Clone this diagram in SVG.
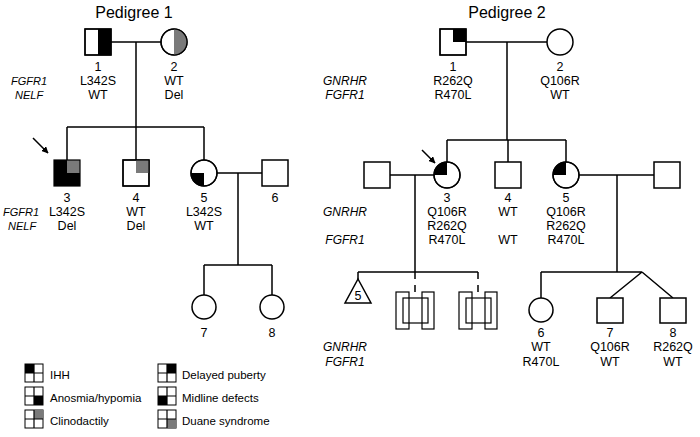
<svg xmlns="http://www.w3.org/2000/svg" width="700" height="437" viewBox="0 0 700 437">
<style>
text{font-family:"Liberation Sans",Arial,sans-serif;font-size:12.5px;fill:#000;text-anchor:middle}
.t{font-size:16px}
.g{font-style:italic;font-size:12px}
.ge{font-style:italic;text-anchor:start;font-size:11px}
.lg{text-anchor:start;font-size:11.5px}
.s{fill:#fff;stroke:#000;stroke-width:1.5}
.o{fill:none;stroke:#000;stroke-width:1.2}
.k{fill:#000}
.gr{fill:#7a7a7a}
.ln{fill:none;stroke:#000;stroke-width:1.5}
.lw{fill:#fff;stroke:#000;stroke-width:1}
</style>
<defs>
<marker id="ah" viewBox="0 0 10 10" refX="9" refY="5" markerWidth="7" markerHeight="7" orient="auto" markerUnits="userSpaceOnUse"><path d="M0,0 L10,5 L0,10 Z" fill="#000"/></marker>
</defs>
<rect width="700" height="437" fill="#fff"/>
<text class="t" x="134" y="18">Pedigree 1</text>
<text class="t" x="507" y="18">Pedigree 2</text>

<g id="connectors">
<path class="ln" d="M111,42 H161 M136,42 V127 M67,127 H204 M67,127 V160 M136,127 V160 M204,127 V160"/>
<path class="ln" d="M217,173 H262 M238,173 V265 M204,265 H272 M204,265 V295 M272,265 V295"/>
<path class="ln" d="M466,42 H547 M507,42 V140 M447,140 H566 M447,140 V162 M508,140 V162 M566,140 V162"/>
<path class="ln" d="M390,175 H434 M579,175 H654 M415,175 V272 M358,272 H478 M358,272 V279"/>
<path class="ln" d="M415,272 V292 M478,272 V292" stroke-dasharray="7 6"/>
<path class="ln" d="M617,175 V272 M541,272 H642 M541,272 V298 M642,272 L610,298 M642,272 L673,298"/>
<path class="ln" d="M33,138 L48,153" marker-end="url(#ah)"/>
<path class="ln" d="M422,150 L435,163" marker-end="url(#ah)"/>
</g>

<g id="p1-1"><rect class="s" x="85" y="29" width="26" height="26"/><rect class="k" x="98" y="29" width="13" height="26"/><rect class="o" x="85" y="29" width="26" height="26"/>
<text x="98" y="71">1</text><text x="98" y="85">L342S</text><text x="98" y="99">WT</text></g>
<g id="p1-2"><circle class="s" cx="174" cy="42" r="13"/><path class="gr" d="M174,29 A13,13 0 0 1 174,55 Z"/><circle class="o" cx="174" cy="42" r="13"/>
<text x="174" y="71">2</text><text x="174" y="85">WT</text><text x="174" y="99">Del</text></g>
<g id="p1-genes1"><text class="ge" x="11" y="85">FGFR1</text><text class="ge" x="15" y="99">NELF</text></g>
<g id="p1-3"><rect class="k" x="54" y="160" width="26" height="26"/><rect class="gr" x="67" y="160" width="13" height="13"/><rect class="o" x="54" y="160" width="26" height="26"/>
<text x="67" y="202">3</text><text x="67" y="216">L342S</text><text x="67" y="230">Del</text></g>
<g id="p1-genes2"><text class="ge" x="3" y="216">FGFR1</text><text class="ge" x="8" y="230">NELF</text></g>
<g id="p1-4"><rect class="s" x="123" y="160" width="26" height="26"/><rect class="gr" x="136" y="160" width="13" height="13"/><rect class="o" x="123" y="160" width="26" height="26"/>
<text x="136" y="202">4</text><text x="136" y="216">WT</text><text x="136" y="230">Del</text></g>
<g id="p1-5"><circle class="s" cx="204" cy="173" r="13"/><path class="k" d="M204,173 H191 A13,13 0 0 0 204,186 Z"/><circle class="o" cx="204" cy="173" r="13"/>
<text x="204" y="202">5</text><text x="204" y="216">L342S</text><text x="204" y="230">WT</text></g>
<g id="p1-6"><rect class="s" x="262" y="160" width="26" height="26"/><text x="275" y="202">6</text></g>
<g id="p1-7"><circle class="s" cx="204" cy="307" r="12"/><text x="204" y="337">7</text></g>
<g id="p1-8"><circle class="s" cx="272" cy="307" r="12"/><text x="272" y="337">8</text></g>

<g id="p2-1"><rect class="s" x="440" y="29" width="26" height="26"/><rect class="k" x="453" y="29" width="13" height="13"/><rect class="o" x="440" y="29" width="26" height="26"/>
<text x="453" y="71">1</text><text x="453" y="85">R262Q</text><text x="453" y="99">R470L</text></g>
<g id="p2-2"><circle class="s" cx="560" cy="42" r="13"/>
<text x="560" y="71">2</text><text x="560" y="85">Q106R</text><text x="560" y="99">WT</text></g>
<g id="p2-genes1"><text class="g" x="345" y="85">GNRHR</text><text class="g" x="345" y="99">FGFR1</text></g>
<g id="p2-sp3"><rect class="s" x="364" y="162" width="26" height="26"/></g>
<g id="p2-3"><circle class="s" cx="447" cy="175" r="13"/><path class="k" d="M447,175 H434 A13,13 0 0 1 447,162 Z"/><circle class="o" cx="447" cy="175" r="13"/>
<text x="447" y="202">3</text><text x="447" y="216">Q106R</text><text x="447" y="230">R262Q</text><text x="447" y="244">R470L</text></g>
<g id="p2-4"><rect class="s" x="495" y="162" width="26" height="26"/>
<text x="508" y="202">4</text><text x="508" y="216">WT</text><text x="508" y="244">WT</text></g>
<g id="p2-5"><circle class="s" cx="566" cy="175" r="13"/><path class="k" d="M566,175 H553 A13,13 0 0 1 566,162 Z"/><circle class="o" cx="566" cy="175" r="13"/>
<text x="566" y="202">5</text><text x="566" y="216">Q106R</text><text x="566" y="230">R262Q</text><text x="566" y="244">R470L</text></g>
<g id="p2-sp5"><rect class="s" x="654" y="162" width="26" height="26"/></g>
<g id="p2-genes2"><text class="g" x="345" y="216">GNRHR</text><text class="g" x="345" y="244">FGFR1</text></g>
<g id="p2-tri"><path class="s" d="M358,279 L371,303 L345,303 Z"/><text x="358" y="300">5</text></g>
<g id="p2-tw1"><rect class="o" x="396" y="292" width="13" height="37"/><rect class="o" x="422" y="292" width="12" height="37"/><rect class="o" x="403" y="298" width="25" height="25"/></g>
<g id="p2-tw2"><rect class="o" x="459" y="292" width="13" height="37"/><rect class="o" x="485" y="292" width="12" height="37"/><rect class="o" x="466" y="298" width="25" height="25"/></g>
<g id="p2-6"><circle class="s" cx="541" cy="310" r="12"/>
<text x="541" y="337">6</text><text x="541" y="351">WT</text><text x="541" y="366">R470L</text></g>
<g id="p2-7"><rect class="s" x="597" y="298" width="26" height="25"/>
<text x="610" y="337">7</text><text x="610" y="351">Q106R</text><text x="610" y="366">WT</text></g>
<g id="p2-8"><rect class="s" x="660" y="298" width="26" height="25"/>
<text x="673" y="337">8</text><text x="673" y="351">R262Q</text><text x="673" y="366">WT</text></g>
<g id="p2-genes3"><text class="g" x="345" y="351">GNRHR</text><text class="g" x="345" y="366">FGFR1</text></g>

<g id="legend">
<rect class="lw" x="25" y="364" width="18" height="18"/><rect class="k" x="25" y="364" width="9" height="9"/><path class="o" stroke-width="1" d="M34,364 V382 M25,373 H43"/>
<text class="lg" x="50" y="379">IHH</text>
<rect class="lw" x="25" y="387" width="18" height="18"/><rect class="k" x="34" y="396" width="9" height="9"/><path class="o" stroke-width="1" d="M34,387 V405 M25,396 H43"/>
<text class="lg" x="50" y="402">Anosmia/hypomia</text>
<rect class="lw" x="25" y="410" width="18" height="18"/><rect class="gr" x="34" y="410" width="9" height="9"/><path class="o" stroke-width="1" d="M34,410 V428 M25,419 H43"/>
<text class="lg" x="50" y="425">Clinodactily</text>
<rect class="lw" x="158" y="364" width="18" height="18"/><rect class="k" x="167" y="364" width="9" height="9"/><path class="o" stroke-width="1" d="M167,364 V382 M158,373 H176"/>
<text class="lg" x="182" y="379">Delayed puberty</text>
<rect class="lw" x="158" y="387" width="18" height="18"/><rect class="k" x="158" y="396" width="9" height="9"/><path class="o" stroke-width="1" d="M167,387 V405 M158,396 H176"/>
<text class="lg" x="182" y="402">Midline defects</text>
<rect class="lw" x="158" y="410" width="18" height="18"/><rect class="gr" x="167" y="419" width="9" height="9"/><path class="o" stroke-width="1" d="M167,410 V428 M158,419 H176"/>
<text class="lg" x="182" y="425">Duane syndrome</text>
</g>
</svg>
